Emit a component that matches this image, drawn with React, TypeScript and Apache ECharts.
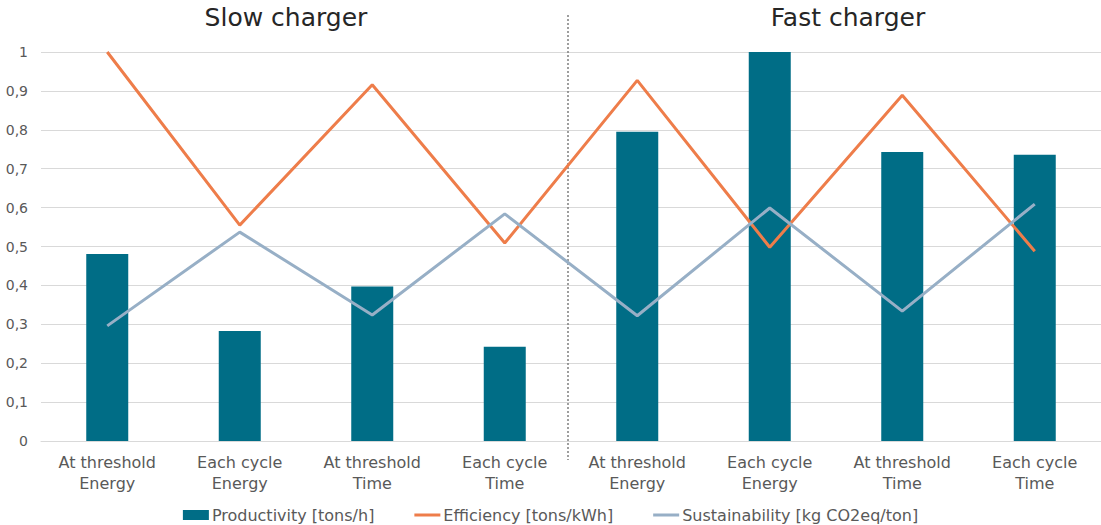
import React, { useEffect, useRef } from "react";
import * as echarts from "echarts";

const categories = [
  "At threshold\nEnergy",
  "Each cycle\nEnergy",
  "At threshold\nTime",
  "Each cycle\nTime",
  "At threshold\nEnergy",
  "Each cycle\nEnergy",
  "At threshold\nTime",
  "Each cycle\nTime",
];
const productivity = [0.481, 0.283, 0.397, 0.242, 0.795, 1.0, 0.743, 0.736];
const efficiency = [1.0, 0.555, 0.916, 0.509, 0.927, 0.498, 0.889, 0.488];
const sustainability = [0.296, 0.537, 0.324, 0.584, 0.322, 0.599, 0.334, 0.609];
const groupTitles = ["Slow charger", "Fast charger"];
const seriesNames = ["Productivity [tons/h]", "Efficiency [tons/kWh]", "Sustainability [kg CO2eq/ton]"];

const FONT = "'DejaVu Sans', sans-serif";
const TEXT = "#595959";
const LINE_ICON = "path://M0,0 L26,0 L26,3 L0,3 Z";

export default function App() {
  const ref = useRef<HTMLDivElement>(null);
  useEffect(() => {
    const chart = echarts.init(ref.current!, null, { renderer: "svg" });
    chart.setOption({
      animation: false,
      textStyle: { fontFamily: FONT },
      grid: { left: 41, right: 0, top: 52, bottom: 84 },
      legend: {
        bottom: 2,
        padding: 0,
        left: "center",
        itemGap: 40,
        itemWidth: 26,
        itemHeight: 10,
        textStyle: { color: TEXT, fontSize: 16, fontFamily: FONT, padding: [0, 0, 0, -2] },
        data: [
          { name: seriesNames[0], icon: "rect" },
          { name: seriesNames[1], icon: LINE_ICON },
          { name: seriesNames[2], icon: LINE_ICON },
        ],
      },
      xAxis: {
        type: "category",
        data: categories,
        axisTick: { show: false },
        axisLine: { lineStyle: { color: "#d9d9d9" } },
        axisLabel: { color: TEXT, fontSize: 16, lineHeight: 21, margin: 11, interval: 0, fontFamily: FONT },
      },
      yAxis: {
        type: "value",
        min: 0,
        max: 1,
        interval: 0.1,
        axisLine: { show: false },
        axisTick: { show: false },
        splitLine: { lineStyle: { color: "#d9d9d9" } },
        axisLabel: {
          color: TEXT,
          fontSize: 14,
          margin: 13,
          fontFamily: FONT,
          formatter: (v: number) => (Math.round(v * 10) / 10).toString().replace(".", ","),
        },
      },
      series: [
        {
          name: seriesNames[0],
          type: "bar",
          data: productivity,
          barWidth: 42,
          itemStyle: { color: "#006D86" },
        },
        {
          name: seriesNames[1],
          type: "line",
          data: efficiency,
          symbol: "none",
          lineStyle: { color: "#EE7D4A", width: 3 },
          itemStyle: { color: "#EE7D4A" },
        },
        {
          name: seriesNames[2],
          type: "line",
          data: sustainability,
          symbol: "none",
          lineStyle: { color: "#97AFC6", width: 3 },
          itemStyle: { color: "#97AFC6" },
        },
      ],
    });
    const x3 = chart.convertToPixel({ xAxisIndex: 0 }, 3) as number;
    const x4 = chart.convertToPixel({ xAxisIndex: 0 }, 4) as number;
    const mid = (x3 + x4) / 2 - 3;
    chart.setOption({
      graphic: [
        {
          type: "line",
          shape: { x1: mid, y1: 15, x2: mid, y2: 460 },
          style: { stroke: "#7f7f7f", lineWidth: 1.5, lineDash: [2, 2] },
        },
        {
          type: "text",
          x: 286,
          y: 17,
          style: { text: groupTitles[0], fill: "#262626", fontSize: 25, fontFamily: FONT, align: "center", verticalAlign: "middle" },
        },
        {
          type: "text",
          x: 848,
          y: 17,
          style: { text: groupTitles[1], fill: "#262626", fontSize: 25, fontFamily: FONT, align: "center", verticalAlign: "middle" },
        },
      ],
    });
    return () => chart.dispose();
  }, []);
  return <div ref={ref} style={{ width: 1101, height: 525, position: "absolute", left: 0, top: 0 }} />;
}
